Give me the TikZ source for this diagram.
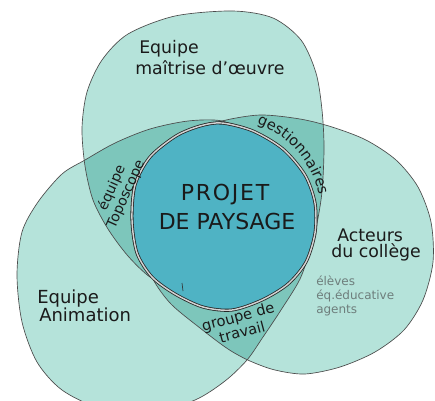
\documentclass[tikz,border=0pt]{standalone}
\usepackage{fontspec}
\setmainfont{DejaVu Sans}
\usetikzlibrary{decorations.text}
\definecolor{lightteal}{HTML}{B5E3DA}
\definecolor{darkteal}{HTML}{7DC6BB}
\definecolor{coreteal}{HTML}{4FB3C4}
\definecolor{ink}{HTML}{1A1A1A}
\definecolor{greyink}{HTML}{6E7E7C}
\tikzset{
  blobline/.style={draw=black!70, line width=0.5pt},
  corebox/.style={fill=coreteal, draw=black!85, line width=0.6pt, double=gray!35, double distance=1.1pt},
  lbl/.style={inner sep=0pt, text=ink, font=\fontsize{13}{13}\selectfont},
  sublbl/.style={inner sep=0pt, text=greyink, font=\fontsize{9}{9}\selectfont},
}
\begin{document}
\begin{tikzpicture}[x=0.75pt,y=-0.75pt]
\useasboundingbox (0,0) rectangle (435,400);
\fill[white] (0,0) rectangle (435,400);
\clip (0,0) rectangle (435,400);
\def\blobA{plot[smooth cycle] coordinates {(233,11) (273,18) (301,40) (316,73) (322,110) (324,150) (321,200) (310,250) (290,275) (260,291) (228,296) (196,292) (170,284) (150,277) (128,256) (108,229) (93,200) (85,166) (82,128) (87,92) (102,60) (128,34) (175,16)}}
\def\blobB{plot[smooth cycle] coordinates {(17,275) (22,232) (38,202) (62,174) (85,160) (115,143) (150,129) (188,121) (222,121) (250,135) (276,157) (296,188) (307,222) (309,250) (300,279) (281,310) (263,337) (247,360) (225,381) (195,400) (150,413) (100,408) (62,390) (37,362) (22,322)}}
\def\blobC{plot[smooth cycle] coordinates {(222,121) (198,131) (175,147) (157,178) (148,220) (148,255) (153,279) (171,304) (200,328) (228,349) (250,361) (275,370) (305,374) (340,367) (375,352) (404,330) (423,300) (433,262) (431,222) (418,187) (396,160) (366,140) (332,127) (300,119) (260,115)}}
\def\coreshape{plot[smooth cycle] coordinates {(222,123) (253,131) (283,149) (305,175) (315,203) (315,233) (306,262) (288,284) (262,300) (232,310) (203,307) (175,294) (152,277) (137,253) (132,220) (135,185) (150,157) (176,136) (200,126)}}
% light blobs
\fill[lightteal] \blobA;
\fill[lightteal] \blobB;
\fill[lightteal] \blobC;
% pairwise overlaps
\begin{scope}\clip \blobA; \fill[darkteal] \blobB; \fill[darkteal] \blobC; \end{scope}
\begin{scope}\clip \blobB; \fill[darkteal] \blobC; \end{scope}
% outlines
\draw[blobline] \blobA;
\draw[blobline] \blobB;
\draw[blobline] \blobC;
% central project
\path[corebox] \coreshape;
\coordinate (ctr) at (224,215);
\draw[black!80, line width=0.5pt] (182,283) -- (183,291);
% texts
\node[lbl, anchor=base west] (moe1) at (139,53) {Equipe};
\node[lbl, anchor=base west] (moe2) at (135,74) {maîtrise d'œuvre};
\node[lbl, anchor=base west] (col1) at (337,241) {Acteurs};
\node[lbl, anchor=base west] (col2) at (331,257) {du collège};
\node[sublbl, anchor=base west] (sub1) at (316,285) {élèves};
\node[sublbl, anchor=base west] (sub2) at (316,299) {éq.éducative};
\node[sublbl, anchor=base west] (sub3) at (316,313) {agents};
\node[lbl, anchor=base west, font=\fontsize{13.5}{13.5}\selectfont] (ani1) at (37,303) {Equipe};
\node[lbl, anchor=base west, font=\fontsize{13.5}{13.5}\selectfont] (ani2) at (39,321) {Animation};
\node[lbl, anchor=base, font=\fontsize{16.5}{16.5}\selectfont\addfontfeature{LetterSpace=8}] (proj1) at (225,200) {PROJET};
\node[lbl, anchor=base, font=\fontsize{16.5}{16.5}\selectfont] (proj2) at (227,229) {DE PAYSAGE};
\node[lbl, align=center, rotate=66, font=\fontsize{10.5}{11.5}\selectfont] (topo) at (119,191) {équipe\\Toposcope};
\node[lbl, align=center, rotate=15, font=\fontsize{11}{12}\selectfont] (grp) at (240,324) {groupe de\\travail};
\path[decorate, decoration={text along path, text align=center, text={|\fontsize{11}{11}\selectfont\color{ink}|gestionnaires}}]
  (ctr) ++(-76:97) arc[start angle=-76, end angle=-6, radius=97];
\end{tikzpicture}
\end{document}
